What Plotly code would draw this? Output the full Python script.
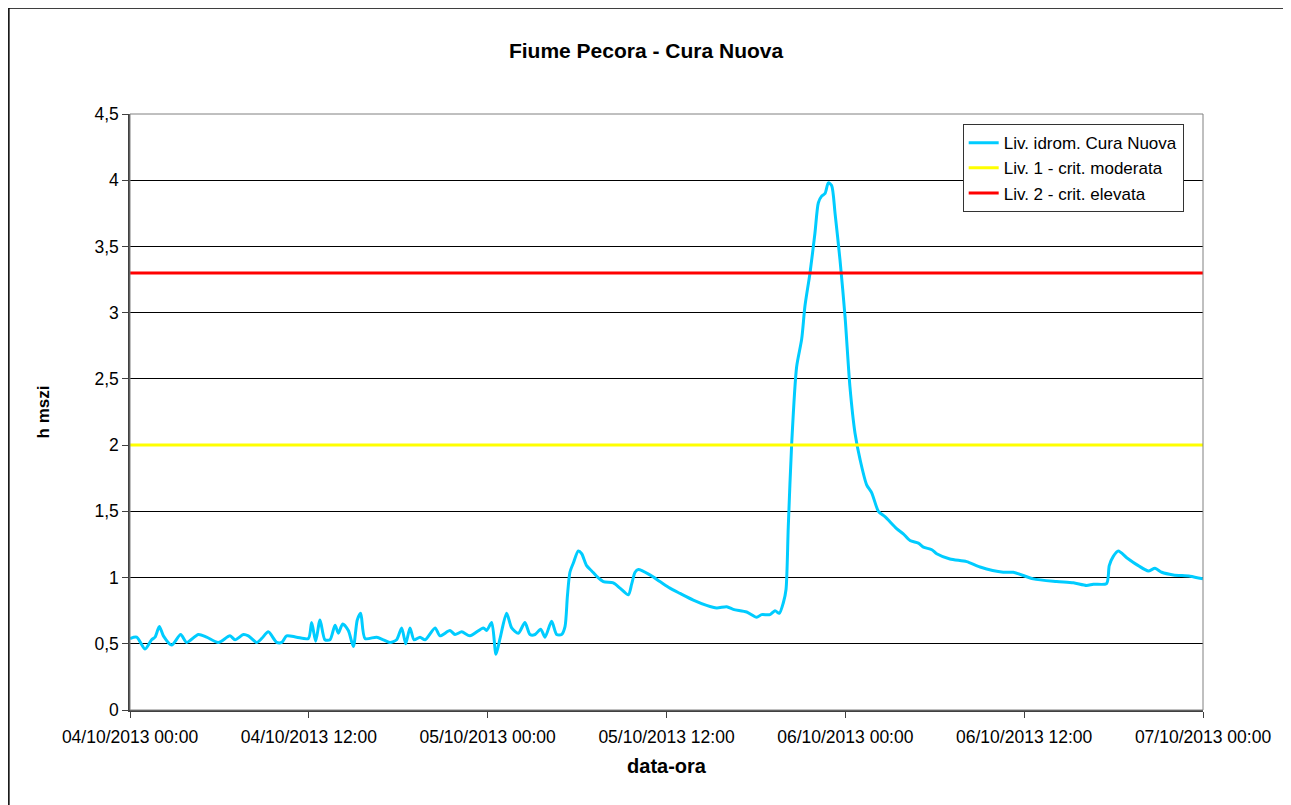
""" Fiume Pecora - Cura Nuova: hydrometric level chart """
import pandas as pd
import plotly.graph_objects as go

# hours elapsed since 04/10/2013 00:00 and water level (m)
hours = [
    0.00, 0.45, 1.01, 1.45, 1.68, 1.97, 2.24, 2.80, 3.40, 3.80,
    4.59, 5.14, 5.93, 6.71, 7.05, 7.61, 7.94, 8.50, 8.84, 9.28,
    9.84, 10.18, 10.51, 11.18, 11.97, 12.19, 12.46, 12.75, 13.08, 13.42,
    13.76, 13.98, 14.27, 14.65, 14.99, 15.25, 15.48, 15.77, 16.55, 17.00,
    17.45, 17.89, 18.23, 18.50, 18.79, 19.06, 19.46, 19.80, 20.47, 20.80,
    21.47, 21.81, 22.26, 22.81, 23.71, 23.93, 24.27, 24.56, 24.83, 25.27,
    25.61, 26.06, 26.50, 26.84, 27.18, 27.56, 27.85, 28.29, 28.63, 28.96,
    29.19, 29.35, 29.52, 29.75, 30.08, 30.31, 30.64, 30.98, 31.31, 31.76,
    32.43, 32.88, 33.44, 33.66, 33.89, 34.11, 34.89, 35.56, 36.23, 36.91,
    37.80, 38.69, 39.37, 40.04, 40.48, 41.38, 42.05, 42.38, 42.94, 43.28,
    43.57, 43.84, 44.02, 44.17, 44.40, 44.73, 45.07, 45.29, 45.63, 45.96,
    46.19, 46.41, 46.64, 46.86, 47.08, 47.31, 47.64, 47.98, 48.31, 48.65,
    48.99, 49.43, 49.77, 50.22, 50.66, 51.44, 51.89, 52.34, 52.90, 53.24,
    53.80, 54.13, 55.02, 56.14, 57.04, 58.60, 59.27, 60.61, 62.18, 63.30,
    64.19, 64.64, 65.53, 65.71, 65.98, 66.32, 66.88, 67.66, 68.33, 68.78,
    69.23, 70.01, 71.13, 72.00,
]
level = [
    0.54, 0.55, 0.46, 0.53, 0.55, 0.63, 0.56, 0.49, 0.57, 0.51,
    0.57, 0.55, 0.51, 0.56, 0.53, 0.57, 0.56, 0.51, 0.54, 0.59,
    0.51, 0.51, 0.56, 0.55, 0.54, 0.66, 0.52, 0.68, 0.53, 0.53,
    0.64, 0.58, 0.65, 0.60, 0.48, 0.68, 0.73, 0.54, 0.55, 0.53,
    0.51, 0.53, 0.62, 0.50, 0.62, 0.53, 0.55, 0.53, 0.62, 0.56,
    0.60, 0.57, 0.59, 0.56, 0.62, 0.60, 0.66, 0.42, 0.54, 0.73,
    0.62, 0.58, 0.66, 0.57, 0.57, 0.61, 0.55, 0.67, 0.57, 0.57,
    0.63, 0.86, 1.04, 1.11, 1.20, 1.18, 1.09, 1.05, 1.01, 0.97,
    0.96, 0.92, 0.87, 0.95, 1.04, 1.06, 1.02, 0.97, 0.92, 0.88,
    0.83, 0.79, 0.77, 0.78, 0.76, 0.74, 0.70, 0.72, 0.72, 0.75,
    0.73, 0.81, 0.91, 1.38, 2.01, 2.59, 2.80, 3.05, 3.30, 3.60,
    3.83, 3.88, 3.90, 3.98, 3.96, 3.75, 3.40, 2.97, 2.44, 2.09,
    1.89, 1.70, 1.64, 1.50, 1.46, 1.37, 1.33, 1.28, 1.26, 1.23,
    1.21, 1.18, 1.14, 1.12, 1.08, 1.04, 1.04, 0.99, 0.97, 0.96,
    0.94, 0.95, 0.955, 1.09, 1.16, 1.20, 1.15, 1.09, 1.05, 1.07,
    1.04, 1.02, 1.01, 0.99,
]

# alert thresholds
level1 = 2.0   # Liv. 1 - crit. moderata
level2 = 3.3   # Liv. 2 - crit. elevata

start = pd.Timestamp("2013-10-04 00:00")
end = pd.Timestamp("2013-10-07 00:00")
x = [start + pd.Timedelta(hours=h) for h in hours]
tick_dates = pd.date_range(start, end, freq="12h")

font = "Liberation Sans, Arial, sans-serif"

fig = go.Figure()
fig.add_trace(go.Scatter(
    x=x, y=level, mode="lines", name="Liv. idrom. Cura Nuova",
    line=dict(color="#00CCFF", width=3, shape="spline", smoothing=0.7)))
fig.add_trace(go.Scatter(
    x=[start, end], y=[level1, level1], mode="lines",
    name="Liv. 1 - crit. moderata", line=dict(color="#FFFF00", width=3)))
fig.add_trace(go.Scatter(
    x=[start, end], y=[level2, level2], mode="lines",
    name="Liv. 2 - crit. elevata", line=dict(color="#FF0000", width=3)))

# page is drawn with an 8px body margin, so the figure is 8px smaller
fig.update_layout(
    width=1283, height=797,
    margin=dict(l=122, r=88, t=106, b=95),
    paper_bgcolor="white", plot_bgcolor="white",
    separators=",.",
    font=dict(family=font, size=17.5, color="black"),
    title=dict(text="<b>Fiume Pecora - Cura Nuova</b>", x=0.4973, xanchor="center",
               y=0.947, yanchor="middle", font=dict(size=21)),
    legend=dict(x=0.982, y=0.983, xanchor="right", yanchor="top",
                bgcolor="white", bordercolor="#333333", borderwidth=1,
                font=dict(size=17), tracegroupgap=0),
    showlegend=True,
    shapes=[
        # plot area border
        dict(type="rect", xref="paper", yref="paper", x0=0, x1=1, y0=0, y1=1,
             line=dict(color="#808080", width=1)),
        # chart area border
        dict(type="rect", xref="paper", yref="paper", x0=-0.1129, x1=1.2,
             y0=-0.3, y1=1.1779, line=dict(color="black", width=1.5)),
    ],
)

fig.update_xaxes(
    range=[start, end], tickvals=tick_dates, tickformat="%d/%m/%Y %H:%M",
    showgrid=False, showline=True, linecolor="#404040", linewidth=1.5,
    ticks="outside", ticklen=6, tickcolor="#404040", ticklabelstandoff=4,
    title=dict(text="<b>data-ora</b>", standoff=13, font=dict(size=20)))
fig.update_yaxes(
    range=[0, 4.5], dtick=0.5, tick0=0,
    showgrid=True, gridcolor="black", gridwidth=1, zeroline=False,
    showline=True, linecolor="#404040", linewidth=1.5,
    ticks="outside", ticklen=6, tickcolor="#404040",
    title=dict(text="<b>h mszi</b>", standoff=40, font=dict(size=17)))

fig.write_html("out.html")
